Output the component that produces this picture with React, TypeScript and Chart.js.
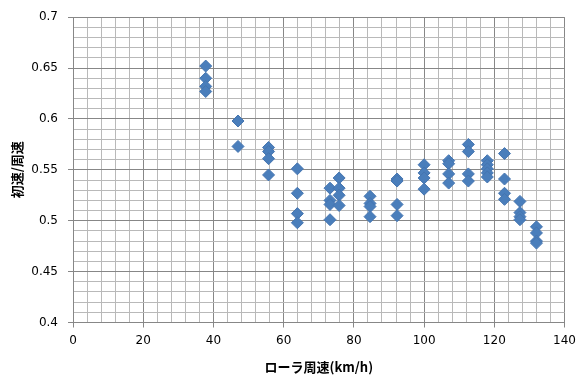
import React, { useEffect, useRef } from "react";
import { Chart, registerables } from "chart.js";

Chart.register(...registerables);

// Roller peripheral speed (km/h)
const rollerSpeed: number[] = [
  37.8, 37.8, 37.8, 37.8,
  47.0, 47.0,
  55.7, 55.7, 55.7, 55.7,
  63.9, 63.9, 63.9, 63.9,
  73.2, 73.2, 73.2, 73.2,
  75.8, 75.8, 75.8, 75.8,
  84.6, 84.6, 84.6, 84.6,
  92.3, 92.3, 92.3, 92.3,
  100.0, 100.0, 100.0, 100.0,
  107.0, 107.0, 107.0, 107.0,
  112.6, 112.6, 112.6, 112.6,
  118.0, 118.0, 118.0, 118.0, 118.0,
  122.9, 122.9, 122.9, 122.9,
  127.3, 127.3, 127.3, 127.3,
  132.0, 132.0, 132.0, 132.0,
];

// Initial velocity / peripheral speed
const speedRatio: number[] = [
  0.652, 0.640, 0.632, 0.627,
  0.598, 0.573,
  0.572, 0.568, 0.561, 0.545,
  0.551, 0.527, 0.507, 0.498,
  0.532, 0.520, 0.516, 0.501,
  0.542, 0.532, 0.525, 0.515,
  0.524, 0.517, 0.514, 0.504,
  0.541, 0.539, 0.516, 0.505,
  0.555, 0.547, 0.542, 0.531,
  0.559, 0.556, 0.546, 0.537,
  0.575, 0.568, 0.546, 0.539,
  0.559, 0.555, 0.551, 0.547, 0.543,
  0.566, 0.541, 0.527, 0.521,
  0.519, 0.508, 0.504, 0.501,
  0.494, 0.488, 0.480, 0.478,
];

const xTitle = "ローラ周速(km/h)";
const yTitle = "初速/周速";

const MAJOR = "#878787";
const MINOR = "#b9b9b9";

export default function App() {
  const canvasRef = useRef<HTMLCanvasElement | null>(null);

  useEffect(() => {
    const canvas = canvasRef.current;
    if (!canvas) return;
    const points = rollerSpeed.map((x, i) => ({ x, y: speedRatio[i] }));
    const isMajorX = (v: number) => Math.round(v) % 20 === 0;
    const isMajorY = (v: number) => Math.round(v * 100) % 5 === 0;
    const chart = new Chart(canvas, {
      type: "scatter",
      data: {
        datasets: [
          {
            data: points,
            pointStyle: "rectRot",
            pointRadius: 6,
            backgroundColor: "#4a7ebb",
            borderColor: "#4575b0",
            borderWidth: 1,
          },
        ],
      },
      options: {
        responsive: false,
        animation: false,
        layout: { padding: { top: 13.5, right: 13, left: 0, bottom: 0 } },
        plugins: {
          legend: { display: false },
          tooltip: { enabled: false },
        },
        scales: {
          x: {
            type: "linear",
            min: 0,
            max: 140,
            afterFit: (scale: any) => {
              scale.height = 56.5;
            },
            ticks: {
              stepSize: 4,
              autoSkip: false,
              maxRotation: 0,
              padding: 6,
              color: "#000",
              font: { family: "DejaVu Sans", size: 12 },
              callback: (v: any) => (isMajorX(Number(v)) ? String(Math.round(Number(v))) : ""),
            },
            grid: {
              color: (ctx: any) => (isMajorX(ctx.tick.value) ? MAJOR : MINOR),
              tickColor: (ctx: any) => (isMajorX(ctx.tick.value) ? MAJOR : "rgba(0,0,0,0)"),
              tickLength: 5,
              lineWidth: 1,
            },
            border: { color: MAJOR },
            title: {
              display: true,
              text: xTitle,
              color: "#000",
              font: { family: "Noto Sans CJK JP", size: 13, weight: "bold" },
              padding: { top: 0, bottom: 4 },
            },
          },
          y: {
            type: "linear",
            min: 0.4,
            max: 0.7,
            afterFit: (scale: any) => {
              scale.width = 73;
            },
            ticks: {
              stepSize: 0.01,
              autoSkip: false,
              padding: 10,
              color: "#000",
              font: { family: "DejaVu Sans", size: 12 },
              callback: (v: any) => {
                const n = Number(v);
                return isMajorY(n) ? String(Math.round(n * 100) / 100) : "";
              },
            },
            grid: {
              color: (ctx: any) => (isMajorY(ctx.tick.value) ? MAJOR : MINOR),
              tickColor: (ctx: any) => (isMajorY(ctx.tick.value) ? MAJOR : "rgba(0,0,0,0)"),
              tickLength: 5,
              lineWidth: 1,
            },
            border: { color: MAJOR },
            title: {
              display: true,
              text: yTitle,
              color: "#000",
              font: { family: "Noto Sans CJK JP", size: 13, weight: "bold" },
              padding: { top: 9, bottom: 0 },
            },
          },
        },
      },
    });
    return () => chart.destroy();
  }, []);

  return (
    <div style={{ position: "absolute", left: 0, top: 0, width: 582, height: 379, background: "#fff" }}>
      <canvas ref={canvasRef} width={582} height={379} style={{ display: "block" }} />
    </div>
  );
}
